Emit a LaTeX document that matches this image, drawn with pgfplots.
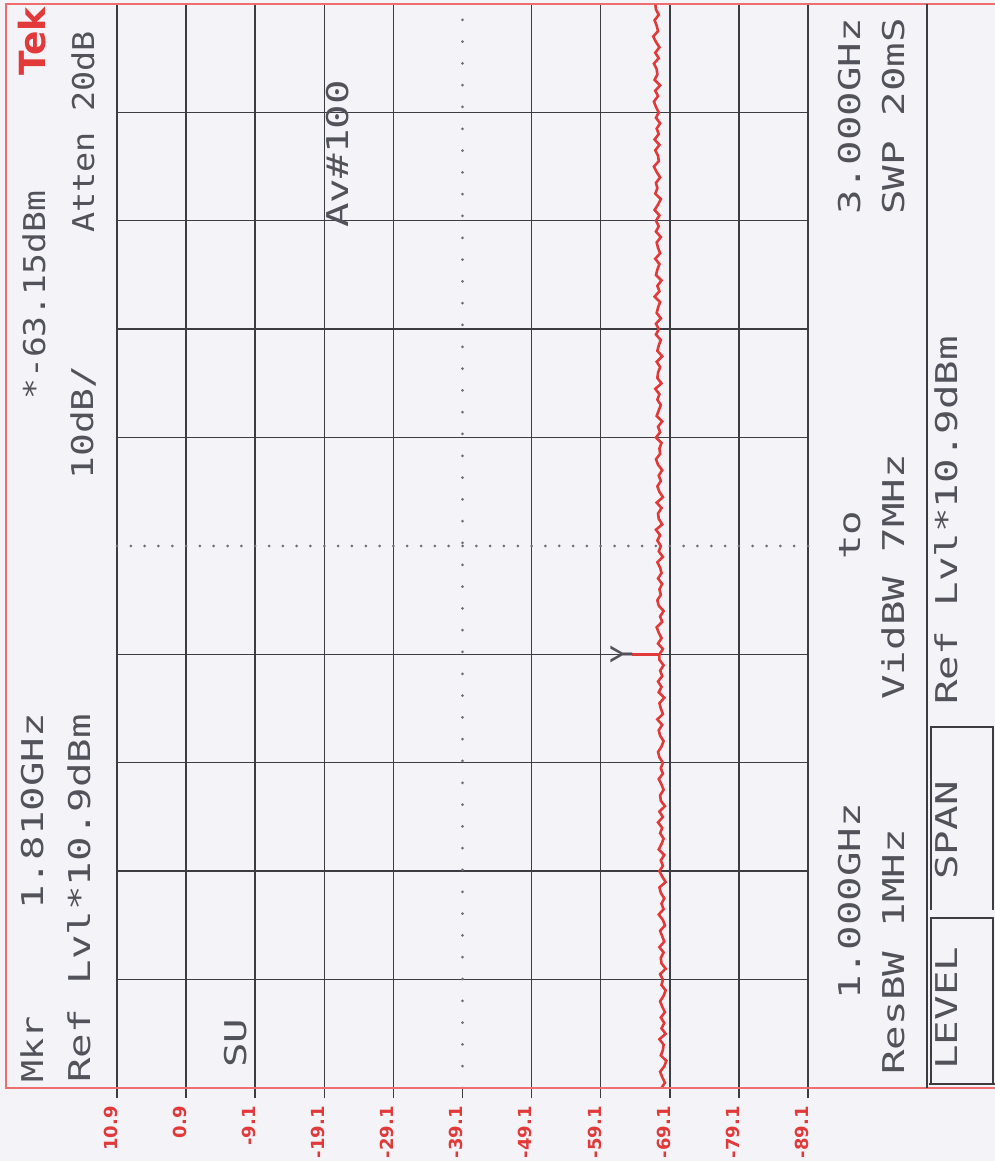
\documentclass[border=0pt]{standalone}
\usepackage{fontspec}
\setmainfont{DejaVu Sans Mono}
\newfontfamily\plotfont[FakeStretch=1.36]{DejaVu Sans Mono}
\newfontfamily\markfont{DejaVu Sans Mono}
\newfontfamily\tickfont{DejaVu Sans}
\newfontfamily\tekfont{DejaVu Sans}
\usepackage{pgfplots}
\pgfplotsset{compat=1.18}
\definecolor{bg}{RGB}{243,243,248}
\definecolor{txt}{RGB}{82,82,90}
\definecolor{grd}{RGB}{60,60,66}
\definecolor{dotc}{RGB}{110,110,118}
\definecolor{tred}{RGB}{226,58,58}
\definecolor{frm}{RGB}{236,110,110}
\tikzset{tl/.style={yshift=-9pt, xshift=0.5pt, rotate=90, anchor=south east, inner sep=0pt, text=tred, font=\tickfont\bfseries\fontsize{9}{10}\selectfont}}
\begin{document}
\begin{tikzpicture}
\begin{scope}[x=0.5pt,y=-0.5pt,shift={(-58.5pt,544pt)}]
\fill[bg] (0,0) rectangle (995,1161);
\end{scope}
\begin{axis}[
  scale only axis, width=345.5pt, height=542pt,
  xmin=-89.1, xmax=10.9, x dir=reverse,
  ymin=1, ymax=3,
  xtick={-89.1,-79.1,-69.1,-59.1,-49.1,-29.1,-19.1,-9.1,0.9,10.9},
  xticklabels={},
  extra x ticks={-39.1}, extra x tick labels={},
  extra x tick style={major grid style={dotc, line width=1.5pt, line cap=round, dash pattern=on 0pt off 10.9pt}},
  ytick={1.2,1.4,1.6,1.8,2.2,2.4,2.6,2.8},
  yticklabels={},
  extra y ticks={2}, extra y tick labels={},
  extra y tick style={major grid style={dotc, line width=1.5pt, line cap=round, dash pattern=on 0pt off 6.91pt}, ytick style={draw=none}},
  ytick style={draw=none},
  xtick pos=left, tick align=outside, major tick length=5pt,
  xtick style={grd, line width=0.7pt},
  xmajorgrids, ymajorgrids,
  major grid style={grd, line width=0.7pt},
  axis line style={grd, line width=0.8pt},
  clip=false,
]
\addplot[tred, line width=1.3pt] table[x=a, y=f] {
f a
1.00 -67.9
1.01 -68.4
1.02 -68.0
1.03 -67.7
1.04 -68.3
1.05 -68.6
1.06 -67.8
1.07 -68.1
1.08 -68.2
1.09 -67.6
1.10 -68.5
1.11 -67.9
1.12 -68.3
1.13 -67.8
1.14 -68.4
1.15 -68.0
1.16 -67.7
1.17 -68.2
1.18 -68.5
1.19 -67.9
1.20 -68.1
1.21 -67.7
1.22 -68.5
1.23 -67.9
1.24 -67.8
1.25 -68.2
1.26 -67.6
1.27 -68.3
1.28 -68.0
1.29 -67.7
1.30 -68.4
1.31 -68.1
1.32 -67.5
1.33 -68.2
1.34 -67.9
1.35 -68.3
1.36 -67.8
1.37 -67.6
1.38 -68.5
1.39 -68.0
1.40 -67.6
1.41 -68.1
1.42 -67.8
1.43 -68.3
1.44 -67.5
1.45 -67.9
1.46 -68.2
1.47 -67.7
1.48 -68.0
1.49 -67.4
1.50 -68.1
1.51 -67.6
1.52 -68.4
1.53 -67.8
1.54 -67.7
1.55 -68.2
1.56 -67.9
1.57 -67.5
1.58 -68.1
1.59 -67.8
1.60 -68.1
1.61 -67.6
1.62 -67.4
1.63 -67.9
1.64 -68.2
1.65 -67.7
1.66 -67.5
1.67 -68.0
1.68 -67.3
1.69 -68.1
1.70 -67.8
1.71 -67.6
1.72 -68.3
1.73 -67.5
1.74 -67.9
1.75 -67.4
1.76 -68.0
1.77 -67.7
1.78 -68.2
1.79 -67.6
1.80 -67.6
1.81 -68.1
1.82 -67.4
1.83 -67.9
1.84 -67.5
1.85 -67.2
1.86 -68.0
1.87 -67.7
1.88 -68.2
1.89 -67.5
1.90 -67.3
1.91 -67.8
1.92 -67.6
1.93 -68.0
1.94 -67.4
1.95 -67.9
1.96 -67.7
1.97 -67.3
1.98 -68.1
1.99 -67.5
2.00 -67.8
2.01 -67.3
2.02 -67.7
2.03 -67.1
2.04 -68.0
2.05 -67.5
2.06 -67.4
2.07 -67.9
2.08 -67.2
2.09 -68.1
2.10 -67.6
2.11 -67.3
2.12 -67.8
2.13 -67.5
2.14 -68.0
2.15 -67.4
2.16 -67.1
2.17 -67.7
2.18 -67.6
2.19 -67.9
2.20 -67.1
2.21 -67.7
2.22 -67.4
2.23 -68.0
2.24 -67.2
2.25 -67.5
2.26 -67.8
2.27 -67.3
2.28 -67.6
2.29 -67.0
2.30 -67.9
2.31 -67.3
2.32 -67.4
2.33 -67.7
2.34 -67.2
2.35 -68.0
2.36 -67.3
2.37 -67.5
2.38 -67.8
2.39 -67.1
2.40 -67.5
2.41 -67.1
2.42 -67.8
2.43 -67.2
2.44 -67.4
2.45 -67.7
2.46 -66.9
2.47 -67.6
2.48 -67.3
2.49 -67.9
2.50 -67.1
2.51 -67.3
2.52 -67.6
2.53 -67.0
2.54 -67.7
2.55 -67.4
2.56 -67.2
2.57 -67.8
2.58 -67.1
2.59 -67.5
2.60 -67.1
2.61 -67.6
2.62 -66.9
2.63 -67.4
2.64 -67.8
2.65 -67.0
2.66 -67.3
2.67 -67.1
2.68 -67.7
2.69 -67.2
2.70 -66.8
2.71 -67.5
2.72 -67.4
2.73 -67.0
2.74 -67.6
2.75 -66.9
2.76 -67.5
2.77 -67.2
2.78 -67.7
2.79 -67.1
2.80 -67.5
2.81 -67.1
2.82 -66.8
2.83 -67.4
2.84 -67.0
2.85 -67.7
2.86 -66.9
2.87 -67.3
2.88 -67.2
2.89 -66.8
2.90 -67.5
2.91 -67.0
2.92 -67.6
2.93 -67.1
2.94 -66.7
2.95 -67.4
2.96 -67.2
2.97 -66.9
2.98 -67.5
2.99 -67.1
3.00 -67.0
};
\addplot[tred, line width=1.3pt] coordinates {(-63.6,1.8) (-67.6,1.8)};
\addplot[only marks, mark=text, text mark={Y}, text mark as node=true, text mark style={rotate=90, font=\markfont\fontsize{15}{15}\selectfont, text=txt, inner sep=0pt}] coordinates {(-62.1,1.8)};
\node[tl] at (axis cs:10.9,1) {10.9};
\node[tl] at (axis cs:0.9,1) {0.9};
\node[tl] at (axis cs:-9.1,1) {-9.1};
\node[tl] at (axis cs:-19.1,1) {-19.1};
\node[tl] at (axis cs:-29.1,1) {-29.1};
\node[tl] at (axis cs:-39.1,1) {-39.1};
\node[tl] at (axis cs:-49.1,1) {-49.1};
\node[tl] at (axis cs:-59.1,1) {-59.1};
\node[tl] at (axis cs:-69.1,1) {-69.1};
\node[tl] at (axis cs:-79.1,1) {-79.1};
\node[tl] at (axis cs:-89.1,1) {-89.1};
\end{axis}
\begin{scope}[x=0.5pt,y=-0.5pt,shift={(-58.5pt,544pt)},
  lab/.style={rotate=90, anchor=base west, inner sep=0pt, text=txt, font=\plotfont\fontsize{15}{18}\selectfont}]
% red outer frame
\draw[frm, line width=1pt] (1000,4) -- (6,4) -- (6,1088) -- (1000,1088);
% right panel divider and soft keys
\draw[grd, line width=0.7pt] (927,4) -- (927,1088);
\draw[grd, line width=0.7pt] (931,1084) -- (931,918) -- (993,918) -- (993,1084);
\draw[grd, line width=0.7pt] (931,910) -- (931,727) -- (993,727) -- (993,910);
\draw[grd, line width=0.7pt] (929,1084) -- (995,1084);
% left panel
\node[rotate=90, anchor=base west, inner sep=0pt, text=tred, font=\tekfont\bfseries\fontsize{18}{18}\selectfont] at (46,76) {Tek};
\node[lab, xscale=0.9] at (43,1083) {Mkr};
\node[lab] at (43,910) {1.810GHz};
\node[lab, xscale=0.85] at (45,400) {*-63.15dBm};
\node[lab] at (90,1083) {Ref Lvl*10.9dBm};
\node[lab, xscale=0.93] at (93,480) {10dB/};
\node[lab, xscale=0.82] at (94,233) {Atten 20dB};
% inside grid
\node[lab] at (246,1068) {SU};
\node[lab] at (348,228) {Av\#100};
% right panel
\node[lab] at (860,1000) {1.000GHz};
\node[lab] at (860,560) {to};
\node[lab] at (860,215) {3.000GHz};
\node[lab] at (904,1075) {ResBW 1MHz};
\node[lab] at (904,700) {VidBW 7MHz};
\node[lab] at (904,215) {SWP 20mS};
\node[lab] at (957,705) {Ref Lvl*10.9dBm};
\node[lab] at (957,1070) {LEVEL};
\node[lab] at (957,880) {SPAN};
\pgfresetboundingbox
\path[use as bounding box] (0,0) rectangle (995,1161);
\end{scope}
\end{tikzpicture}
\end{document}
